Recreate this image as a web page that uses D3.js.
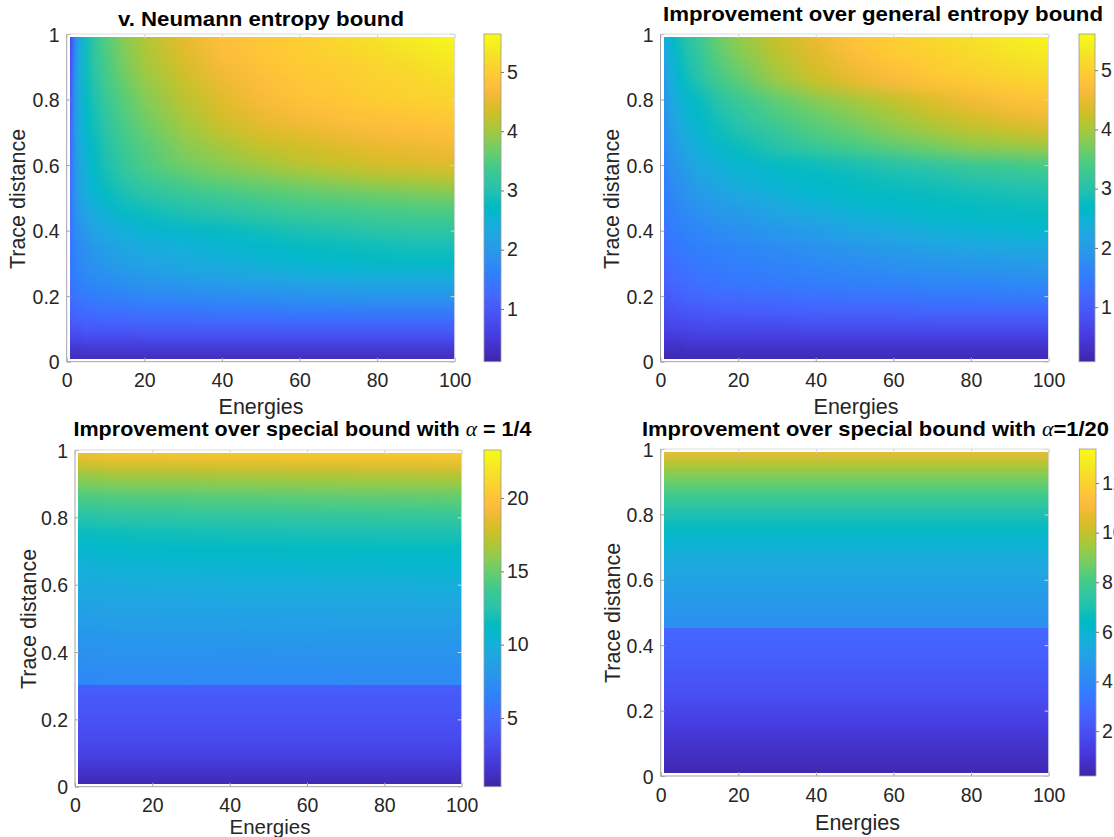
<!DOCTYPE html>
<html>
<head>
<meta charset="utf-8">
<script src="https://cdn.jsdelivr.net/npm/d3@7"></script>
<style>
  body { margin: 0; background: #fff; }
  svg { display: block; font-family: "Liberation Sans", Arial, Helvetica, sans-serif; }
</style>
</head>
<body>
<svg id="fig" width="1114" height="837"></svg>
<script>
// ---- data ----
const xTicks = [0, 20, 40, 60, 80, 100];
const yTicks = [0, 0.2, 0.4, 0.6, 0.8, 1];

// top two panels: energies (x) and trace distances (y, bottom to top)
const energies = [1, 2, 3, 5, 7, 10, 15, 20, 30, 40, 50, 60, 70, 80, 90, 100];
const traces = [0.01, 0.05, 0.10, 0.15, 0.20, 0.25, 0.30, 0.35, 0.40, 0.45, 0.50,
  0.55, 0.60, 0.65, 0.70, 0.75, 0.80, 0.85, 0.90, 0.95, 0.99];

const neumannBound = [
  [0.15,0.15,0.15,0.15,0.15,0.15,0.15,0.15,0.15,0.15,0.15,0.15,0.15,0.15,0.15,0.15],
  [0.55,0.55,0.55,0.6,0.6,0.6,0.6,0.6,0.6,0.6,0.6,0.6,0.6,0.6,0.6,0.6],
  [0.9,0.95,0.95,1.0,1.0,1.0,1.0,1.05,1.05,1.05,1.05,1.05,1.05,1.05,1.05,1.05],
  [1.15,1.2,1.25,1.3,1.3,1.35,1.35,1.4,1.4,1.45,1.45,1.5,1.5,1.5,1.5,1.5],
  [1.3,1.4,1.45,1.5,1.55,1.6,1.65,1.7,1.75,1.8,1.85,1.9,1.92,1.95,1.95,1.95],
  [1.4,1.5,1.6,1.7,1.75,1.8,1.9,1.95,2.05,2.15,2.2,2.25,2.3,2.35,2.35,2.35],
  [1.45,1.6,1.7,1.8,1.9,2.0,2.1,2.2,2.3,2.4,2.5,2.6,2.65,2.7,2.7,2.7],
  [1.4,1.65,1.75,1.9,2.0,2.1,2.25,2.35,2.45,2.55,2.65,2.75,2.8,2.85,2.9,2.9],
  [1.4,1.7,1.85,2.0,2.15,2.3,2.45,2.55,2.65,2.75,2.85,2.95,3.0,3.1,3.12,3.15],
  [1.4,1.8,2.0,2.2,2.35,2.5,2.7,2.8,2.95,3.05,3.15,3.25,3.3,3.35,3.4,3.4],
  [1.4,1.85,2.1,2.4,2.55,2.7,2.9,3.05,3.2,3.3,3.4,3.5,3.55,3.6,3.65,3.7],
  [1.35,1.85,2.15,2.45,2.6,2.85,3.1,3.25,3.45,3.6,3.7,3.8,3.9,4.0,4.05,4.1],
  [1.3,1.9,2.2,2.5,2.7,2.95,3.25,3.45,3.7,3.85,4.0,4.15,4.25,4.35,4.4,4.45],
  [1.25,1.9,2.25,2.55,2.75,3.0,3.3,3.5,3.8,4.0,4.2,4.3,4.4,4.5,4.55,4.6],
  [1.2,1.9,2.3,2.65,2.85,3.1,3.4,3.6,3.95,4.2,4.4,4.5,4.6,4.7,4.75,4.8],
  [1.1,1.9,2.3,2.7,2.9,3.15,3.5,3.7,4.05,4.35,4.55,4.7,4.8,4.85,4.9,4.95],
  [1.0,1.9,2.3,2.75,2.95,3.25,3.55,3.8,4.15,4.45,4.65,4.85,4.9,5.0,5.05,5.1],
  [0.95,1.85,2.3,2.8,3.05,3.35,3.65,3.9,4.25,4.55,4.75,4.9,4.95,5.05,5.1,5.2],
  [0.85,1.75,2.3,2.85,3.1,3.4,3.75,4.0,4.35,4.65,4.85,4.95,5.0,5.1,5.2,5.35],
  [0.8,1.65,2.25,2.85,3.15,3.45,3.8,4.05,4.45,4.75,4.9,5.0,5.1,5.2,5.35,5.5],
  [0.75,1.55,2.15,2.85,3.15,3.5,3.85,4.1,4.5,4.8,4.9,5.0,5.15,5.3,5.45,5.6]
];

const generalImprovement = [
  [0.1,0.1,0.1,0.1,0.1,0.1,0.1,0.1,0.1,0.1,0.1,0.1,0.1,0.1,0.1,0.1],
  [0.35,0.35,0.35,0.35,0.4,0.4,0.4,0.4,0.4,0.4,0.4,0.4,0.4,0.4,0.4,0.4],
  [0.6,0.6,0.65,0.65,0.65,0.7,0.7,0.7,0.7,0.75,0.75,0.75,0.75,0.75,0.75,0.75],
  [0.8,0.85,0.85,0.9,0.95,0.95,1.0,1.0,1.05,1.1,1.1,1.1,1.15,1.15,1.15,1.15],
  [0.95,1.0,1.05,1.1,1.15,1.2,1.25,1.25,1.3,1.35,1.4,1.4,1.45,1.45,1.5,1.5],
  [1.1,1.15,1.2,1.25,1.3,1.35,1.4,1.45,1.5,1.55,1.6,1.65,1.7,1.72,1.75,1.8],
  [1.2,1.25,1.3,1.35,1.4,1.45,1.5,1.55,1.6,1.7,1.75,1.85,1.9,1.95,2.0,2.05],
  [1.3,1.35,1.4,1.45,1.5,1.55,1.6,1.65,1.75,1.85,1.95,2.05,2.15,2.2,2.25,2.3],
  [1.35,1.45,1.5,1.55,1.6,1.65,1.75,1.8,1.95,2.05,2.2,2.3,2.4,2.5,2.55,2.6],
  [1.45,1.5,1.55,1.65,1.7,1.8,1.95,2.0,2.15,2.3,2.45,2.55,2.65,2.7,2.72,2.75],
  [1.5,1.6,1.65,1.75,1.85,1.95,2.1,2.2,2.4,2.55,2.65,2.7,2.75,2.8,2.85,2.9],
  [1.55,1.65,1.75,1.85,1.95,2.1,2.25,2.4,2.55,2.65,2.75,2.85,2.9,3.0,3.05,3.1],
  [1.6,1.75,1.85,1.95,2.1,2.3,2.45,2.55,2.7,2.8,2.9,3.0,3.1,3.25,3.3,3.4],
  [1.7,1.85,1.95,2.1,2.25,2.4,2.6,2.75,3.0,3.2,3.35,3.5,3.65,3.8,3.85,3.9],
  [1.8,1.95,2.05,2.25,2.4,2.55,2.8,2.95,3.2,3.45,3.6,3.8,3.95,4.1,4.2,4.3],
  [1.85,2.0,2.15,2.35,2.5,2.65,2.9,3.1,3.4,3.6,3.8,4.0,4.2,4.35,4.5,4.6],
  [1.95,2.1,2.25,2.45,2.6,2.75,3.05,3.25,3.55,3.8,4.0,4.2,4.4,4.6,4.75,4.85],
  [2.0,2.2,2.35,2.6,2.8,3.0,3.3,3.5,3.9,4.2,4.45,4.65,4.8,4.9,5.0,5.05],
  [2.1,2.3,2.45,2.7,2.9,3.1,3.45,3.65,4.05,4.35,4.6,4.8,4.95,5.05,5.15,5.25],
  [2.2,2.4,2.55,2.8,3.0,3.2,3.55,3.8,4.15,4.45,4.75,4.95,5.05,5.15,5.3,5.4],
  [2.3,2.5,2.65,2.9,3.1,3.3,3.65,3.9,4.25,4.55,4.85,5.0,5.1,5.25,5.4,5.55]
];

// alpha = 1/4 : jump at trace distance 0.3
const alpha4Split = 0.305;
const tracesA4Low = [0.01, 0.05, 0.10, 0.15, 0.20, 0.25, 0.30];
const boundA4Low = [0.5, 1.6, 2.5, 3.1, 3.6, 3.95, 4.3];
const energiesA4 = [1, 10, 25, 50, 75, 100];
const tracesA4High = [0.31, 0.35, 0.40, 0.45, 0.50, 0.55, 0.60, 0.65, 0.70, 0.75,
  0.80, 0.85, 0.90, 0.93, 0.96, 0.99];
const boundA4High = [
  [6.9,7.0,7.0,7.05,7.1,7.1],
  [7.2,7.3,7.3,7.35,7.4,7.4],
  [7.6,7.7,7.7,7.75,7.8,7.8],
  [8.0,8.1,8.15,8.2,8.25,8.25],
  [8.5,8.6,8.65,8.7,8.75,8.75],
  [9.0,9.1,9.15,9.2,9.25,9.3],
  [9.5,9.6,9.7,9.8,9.85,9.9],
  [10.0,10.2,10.3,10.4,10.5,10.55],
  [10.6,10.8,10.95,11.1,11.2,11.2],
  [11.4,11.6,11.75,11.9,12.0,12.05],
  [12.5,12.7,12.8,12.95,13.1,13.2],
  [13.9,14.1,14.2,14.35,14.5,14.6],
  [15.3,15.6,15.7,15.85,16.0,16.1],
  [16.3,16.7,16.8,16.95,17.1,17.2],
  [17.8,18.2,18.3,18.5,18.6,18.7],
  [19.8,20.2,20.4,20.6,20.8,21.0]
];

// alpha = 1/20 : jump at trace distance ~0.455, no visible energy dependence
const alpha20Split = 0.455;
const tracesA20Low = [0.01, 0.05, 0.10, 0.15, 0.20, 0.25, 0.30, 0.35, 0.40, 0.45];
const boundA20Low = [0.3, 0.6, 0.85, 1.25, 1.6, 1.95, 2.2, 2.45, 2.65, 2.85];
const tracesA20High = [0.46, 0.50, 0.55, 0.60, 0.65, 0.70, 0.75, 0.80, 0.85, 0.90, 0.93, 0.96, 0.99];
const boundA20High = [4.3, 4.5, 4.8, 5.1, 5.45, 5.9, 6.4, 7.0, 7.8, 8.6, 9.2, 9.9, 11.1];

// MATLAB parula colormap (64 entries)
const parulaHex = ["#3e26a8","#402ab4","#422ec0","#4332cb","#4537d5","#463cde","#4741e5","#4747eb",
  "#484df0","#4852f4","#4758f8","#465efb","#4563fd","#4269fe","#3e6fff","#3875fe",
  "#327cfc","#2f81fa","#2e87f7","#2d8cf3","#2b91ef","#2797eb","#259be8","#23a0e5",
  "#20a5e3","#1ca9df","#18addb","#12b1d6","#08b5d0","#01b8ca","#02bac3","#0bbdbd",
  "#19bfb6","#24c1ae","#2cc4a7","#31c69f","#37c897","#3fca8e","#4acb84","#57cc7a",
  "#64cd6f","#72cd64","#81cc59","#8fcb4e","#9dc943","#abc739","#b9c431","#c5c22a",
  "#d1bf27","#dcbd29","#e6bb2d","#f0ba36","#f8ba3d","#febe3c","#fec338","#fec934",
  "#fccf30","#fad62d","#f7dc2a","#f5e327","#f5e924","#f6ef20","#f7f51b","#f9fb15"];
const parula = d3.piecewise(d3.interpolateRgb, parulaHex);

// ---- layout ----
const panels = [
  {
    box: {l: 66.7, r: 454.7, t: 34, b: 361.7},
    cbar: {l: 484, r: 501}, cdomain: [0.11, 5.64], cticks: [1, 2, 3, 4, 5],
    blocks: [{xs: energies, ys: traces, z: neumannBound, lo: 0.01, hi: 0.99}],
    blurY: 7,
    title: {parts: [["v. Neumann entropy bound"]], x: 261, y: 26, w: 286},
    xlabel: {x: 261, y: 414}, ylabel: {x: 25, y: 199}
  },
  {
    box: {l: 660.5, r: 1048.5, t: 34, b: 361.7},
    cbar: {l: 1079, r: 1095}, cdomain: [0.08, 5.61], cticks: [1, 2, 3, 4, 5],
    blocks: [{xs: energies, ys: traces, z: generalImprovement, lo: 0.01, hi: 0.99}],
    blurY: 7,
    title: {parts: [["Improvement over general entropy bound"]], x: 883, y: 21, w: 440},
    xlabel: {x: 856, y: 414}, ylabel: {x: 618.5, y: 199}
  },
  {
    box: {l: 75, r: 461.7, t: 450, b: 786.7},
    cbar: {l: 484, r: 501}, cdomain: [0.32, 23.27], cticks: [5, 10, 15, 20],
    blocks: [
      {xs: null, ys: tracesA4Low, z: boundA4Low, lo: 0.01, hi: alpha4Split},
      {xs: energiesA4, ys: tracesA4High, z: boundA4High, lo: alpha4Split, hi: 0.99}
    ],
    blurY: 6,
    title: {parts: [["Improvement over special bound with "], ["α", true], [" = 1/4"]], x: 302.5, y: 436, w: 458},
    xlabel: {x: 270, y: 833.5}, ylabel: {x: 36, y: 619}
  },
  {
    box: {l: 660.7, r: 1048.7, t: 449, b: 776},
    cbar: {l: 1079.3, r: 1096}, cdomain: [0.19, 13.37], cticks: [2, 4, 6, 8, 10, 12],
    blocks: [
      {xs: null, ys: tracesA20Low, z: boundA20Low, lo: 0.01, hi: alpha20Split},
      {xs: null, ys: tracesA20High, z: boundA20High, lo: alpha20Split, hi: 0.99}
    ],
    blurY: 6,
    title: {parts: [["Improvement over special bound with "], ["α", true], ["=1/20"]], x: 875.5, y: 436, w: 467},
    xlabel: {x: 857.5, y: 829.5}, ylabel: {x: 620, y: 613}
  }
];

const svg = d3.select("#fig");
svg.append("rect").attr("width", 1114).attr("height", 837).attr("fill", "#fff");
const defs = svg.append("defs");

// colorbar gradient, bottom to top
const grad = defs.append("linearGradient").attr("id", "parulaGrad")
  .attr("x1", 0).attr("y1", 1).attr("x2", 0).attr("y2", 0);
parulaHex.forEach((c, i) => {
  grad.append("stop").attr("offset", i / (parulaHex.length - 1)).attr("stop-color", c);
});

function edges(centers, lo, hi) {
  const e = [lo];
  for (let i = 1; i < centers.length; i++) e.push((centers[i - 1] + centers[i]) / 2);
  e.push(hi);
  return e;
}

// vertical smoothing between rows, like shading interp
function makeBlur(id, sy) {
  const f = defs.append("filter").attr("id", id)
    .attr("x", 0).attr("y", 0).attr("width", 1).attr("height", 1)
    .attr("color-interpolation-filters", "sRGB");
  f.append("feGaussianBlur").attr("stdDeviation", "0 " + sy);
  f.append("feComponentTransfer").append("feFuncA").attr("type", "table").attr("tableValues", "1 1");
}

function styleTicks(ax) {
  ax.attr("font-size", null).attr("font-family", null);
  ax.select(".domain").remove();
  ax.selectAll(".tick line").attr("stroke", "#a3a3a3");
  ax.selectAll(".tick text").attr("font-size", 19.5).attr("fill", "#262626");
}

panels.forEach((p, k) => {
  const b = p.box;
  const x = d3.scaleLinear().domain([0, 100]).range([b.l, b.r]);
  const y = d3.scaleLinear().domain([0, 1]).range([b.b, b.t]);
  const color = d3.scaleSequential(parula).domain(p.cdomain).clamp(true);
  const g = svg.append("g");

  // heatmap: one strip per trace distance, coloured along energy by its values
  p.blocks.forEach((blk, bi) => {
    const id = "blur" + k + "_" + bi;
    makeBlur(id, p.blurY);
    const ye = edges(blk.ys, blk.lo, blk.hi);
    const xsRow = blk.xs || [1];
    const rows = blk.ys.map((tv, j) => {
      const vals = Array.isArray(blk.z[j]) ? blk.z[j] : [blk.z[j]];
      const gid = "row" + k + "_" + bi + "_" + j;
      const lg = defs.append("linearGradient").attr("id", gid)
        .attr("gradientUnits", "userSpaceOnUse")
        .attr("x1", x(1)).attr("x2", x(100)).attr("y1", 0).attr("y2", 0);
      vals.forEach((v, i) => {
        lg.append("stop").attr("offset", (x(xsRow[i]) - x(1)) / (x(100) - x(1)))
          .attr("stop-color", color(v));
      });
      return {j, fill: "url(#" + gid + ")", top: j === blk.ys.length - 1};
    });
    g.append("g").attr("filter", "url(#" + id + ")")
      .selectAll("rect").data(rows).join("rect")
      .attr("x", x(1))
      .attr("width", x(100) - x(1))
      .attr("y", d => y(ye[d.j + 1]) - (d.top ? 0 : 0.6))
      .attr("height", d => y(ye[d.j]) - y(ye[d.j + 1]) + (d.top ? 0 : 0.6))
      .attr("fill", d => d.fill);
  });

  // axes with inward ticks (box on)
  const bottom = g.append("g").attr("transform", `translate(0,${b.b})`)
    .call(d3.axisBottom(x).tickValues(xTicks).tickSize(-4).tickSizeOuter(0));
  styleTicks(bottom);
  bottom.selectAll(".tick text").attr("y", 25.5).attr("dy", null);

  const left = g.append("g").attr("transform", `translate(${b.l},0)`)
    .call(d3.axisLeft(y).tickValues(yTicks).tickSize(-4).tickSizeOuter(0).tickFormat(d => String(d)));
  styleTicks(left);
  left.selectAll(".tick text").attr("x", -7).attr("dy", "0.36em");

  const top = g.append("g").attr("transform", `translate(0,${b.t})`)
    .call(d3.axisTop(x).tickValues(xTicks).tickSize(-4).tickSizeOuter(0).tickFormat(""));
  styleTicks(top);
  top.selectAll(".tick line").attr("stroke", "#d6d6d6");
  const right = g.append("g").attr("transform", `translate(${b.r},0)`)
    .call(d3.axisRight(y).tickValues(yTicks).tickSize(-4).tickSizeOuter(0).tickFormat(""));
  styleTicks(right);
  right.selectAll(".tick line").attr("stroke", "#d6d6d6");

  g.append("line").attr("x1", b.l).attr("x2", b.r).attr("y1", b.t).attr("y2", b.t).attr("stroke", "#dcdcdc");
  g.append("line").attr("x1", b.r).attr("x2", b.r).attr("y1", b.t).attr("y2", b.b).attr("stroke", "#dcdcdc");
  g.append("line").attr("x1", b.l).attr("x2", b.r).attr("y1", b.b).attr("y2", b.b).attr("stroke", "#a3a3a3");
  g.append("line").attr("x1", b.l).attr("x2", b.l).attr("y1", b.t).attr("y2", b.b).attr("stroke", "#a3a3a3");

  // colorbar
  const cy = d3.scaleLinear().domain(p.cdomain).range([b.b, b.t]);
  g.append("rect").attr("x", p.cbar.l).attr("y", b.t)
    .attr("width", p.cbar.r - p.cbar.l).attr("height", b.b - b.t)
    .attr("fill", "url(#parulaGrad)").attr("stroke", "#999").attr("stroke-width", 0.8);
  const cax = g.append("g").attr("transform", `translate(${p.cbar.r},0)`)
    .call(d3.axisRight(cy).tickValues(p.cticks).tickSize(3).tickPadding(3).tickSizeOuter(0)
      .tickFormat(d => String(d)));
  styleTicks(cax);
  cax.selectAll(".tick line").attr("stroke", "#777");

  // labels
  g.append("text").attr("x", p.xlabel.x).attr("y", p.xlabel.y)
    .attr("text-anchor", "middle").attr("font-size", k === 2 ? 20.5 : 21.5)
    .attr("fill", "#262626").text("Energies");
  g.append("text").attr("transform", `translate(${p.ylabel.x},${p.ylabel.y}) rotate(-90)`)
    .attr("text-anchor", "middle").attr("font-size", 21.5).attr("fill", "#262626").text("Trace distance");

  const t = g.append("text").attr("x", p.title.x).attr("y", p.title.y)
    .attr("text-anchor", "middle").attr("font-size", 21).attr("font-weight", "bold")
    .attr("fill", "#000").attr("textLength", p.title.w).attr("lengthAdjust", "spacingAndGlyphs");
  p.title.parts.forEach(([s, greek]) => {
    const ts = t.append("tspan").text(s);
    if (greek) ts.attr("font-family", "'Liberation Serif', 'DejaVu Serif', serif")
      .attr("font-style", "italic").attr("font-weight", "normal");
  });
});
</script>
</body>
</html>
